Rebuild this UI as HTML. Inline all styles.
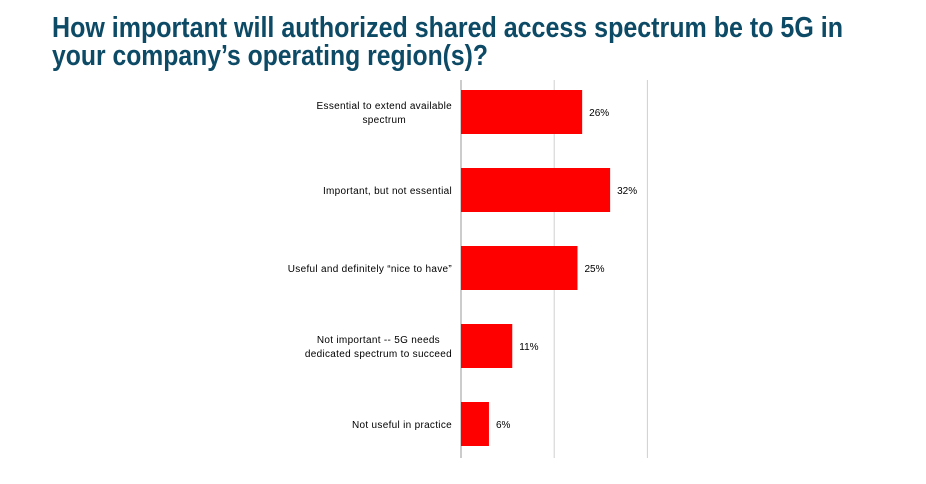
<!DOCTYPE html>
<html><head><meta charset="utf-8"><style>
html,body{margin:0;padding:0;background:#fff;}
svg{display:block;font-family:"Liberation Sans",sans-serif;}
</style></head><body>
<svg id="chart" width="926" height="484">
<text x="52" y="37" font-size="29" font-weight="bold" fill="#0d4a66" textLength="791" lengthAdjust="spacingAndGlyphs">How important will authorized shared access spectrum be to 5G in</text>
<text x="52" y="65" font-size="29" font-weight="bold" fill="#0d4a66" textLength="436" lengthAdjust="spacingAndGlyphs">your company’s operating region(s)?</text>
<g id="plot"></g>
</svg>
<script>
const categories = [["Essential to extend available","spectrum"],["Important, but not essential"],["Useful and definitely \u201cnice to have\u201d"],["Not important -- 5G needs","dedicated spectrum to succeed"],["Not useful in practice"]];
const values = [26, 32, 25, 11, 6];
const valueLabels = ["26%","32%","25%","11%","6%"];
const gridTicks = [0, 20, 40];
const x0 = 461, pxPer = 4.66, plotTop = 72, bandH = 78, barH = 44;
const xs = v => x0 + v * pxPer;
const yBand = i => plotTop + i * bandH;
const ns = "http://www.w3.org/2000/svg";
const g = document.getElementById("plot");
function mk(t, a){const e=document.createElementNS(ns,t);for(const k in a)e.setAttribute(k,a[k]);return e;}
gridTicks.forEach(t=>{
  const l = mk("line",{x1:xs(t),x2:xs(t),y1:80,y2:458,stroke:t===0?"#999":"#d0d0d0","stroke-width":1});
  
  
  g.appendChild(l);
});
values.forEach((v,i)=>{
  const cy = yBand(i) + bandH/2 + 1;
  const r = mk("rect",{x:x0,y:cy-barH/2,width:xs(v)-x0,height:barH,fill:"#ff0000"});
  
  
  g.appendChild(r);
  const vt = mk("text",{x:xs(v)+7,y:cy+4,"font-size":10,fill:"#000"});
  vt.textContent = valueLabels[i];
  
  
  g.appendChild(vt);
  const lines = categories[i];
  const els = [];
  lines.forEach((s,j)=>{
    const ct = mk("text",{x:0,y:cy+4+(j-(lines.length-1)/2)*14,"font-size":10,"letter-spacing":"0.3","text-anchor":"middle",fill:"#000"});
    ct.textContent = s;
    
    
    g.appendChild(ct);
    els.push(ct);
  });
  let w = 0;
  els.forEach(e=>{w=Math.max(w,e.getComputedTextLength());});
  els.forEach(e=>e.setAttribute("x", 452 - w/2));
});
</script>
</body></html>
